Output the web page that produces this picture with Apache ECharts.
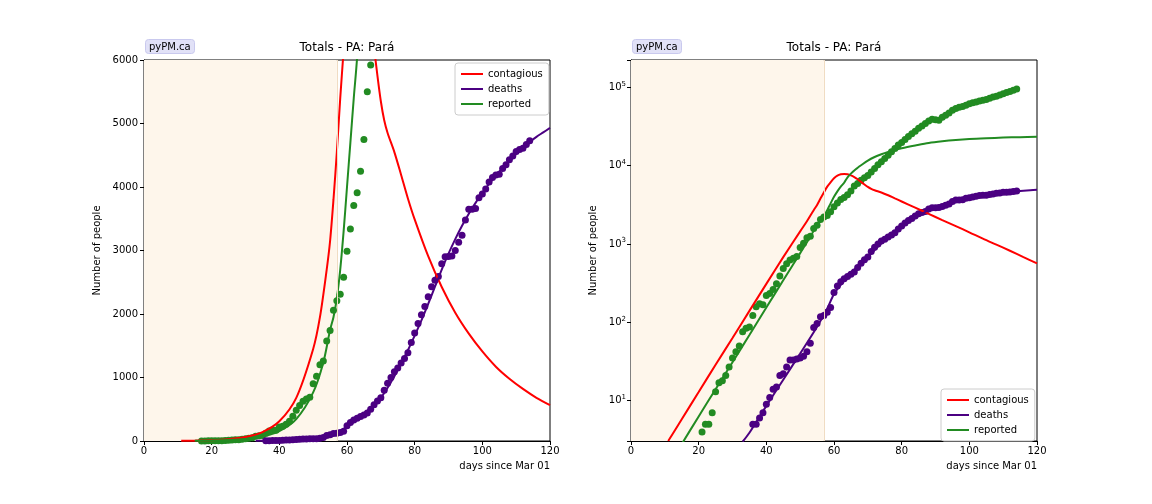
<!DOCTYPE html>
<html><head><meta charset="utf-8">
<script src="https://cdn.jsdelivr.net/npm/echarts@6/dist/echarts.min.js"></script>
<style>html,body{margin:0;padding:0;background:#fff}#c{width:1152px;height:504px}</style>
</head><body><div id="c"></div>
<script>
// ---- data ----
const titleText = 'Totals - PA: Pará';
const seriesNames = ['contagious', 'deaths', 'reported'];
const xTicks = [0, 20, 40, 60, 80, 100, 120];
const linearTicks = [0, 1000, 2000, 3000, 4000, 5000, 6000];
const shadeEndDay = 57;

// reported (points), day 17 .. 114
const reportedStartDay = 17;
const reportedValues = [
  1,1,2,2,4,5,5,7,13,17,
  18,21,27,35,42,50,76,84,87,122,
  158,173,168,220,234,262,310,390,485,558,
  625,660,690,900,1020,1200,1260,1575,1740,2060,
  2210,2310,2580,2990,3340,3710,3910,4250,4750,5500,
  5920,6500,7000,7500,8300,9200,10300,11200,12300,13600,
  15000,16500,18300,19800,21500,23500,25500,27500,30000,32000,
  34500,37000,39000,38500,38000,41500,44000,47000,51000,53500,
  55500,57000,59000,61500,63500,65000,67000,68500,70000,72500,
  75000,77000,80000,83000,85500,88500,91500,95000
];
// deaths (points), day 36 .. 114
const deathsStartDay = 36;
const deathsValues = [
  5,5,6,7,9,11,14,15,21,22,
  27,33,33,34,35,37,42,54,86,97,
  118,122,135,155,240,290,330,360,385,410,
  440,500,570,630,680,800,910,1000,1090,1150,
  1230,1300,1390,1550,1700,1850,1990,2120,2270,2430,
  2530,2590,2790,2900,2905,2915,3000,3130,3240,3480,
  3650,3650,3660,3830,3890,3970,4080,4150,4190,4200,
  4290,4350,4430,4490,4560,4590,4610,4670,4730
];
// model curves
const contagiousDays = [11,15,20,25,30,35,40,45,50,52,54,55,56,57,58,59,60,61,62,63,64,65,66,67,68,69,70,71,72,74,76,78,80,84,88,92,96,100,104,108,112,116,120];
const contagiousVals = [3.06,5.8,12.9,28.8,63,140,310,680,1450,1950,2700,3150,3800,4550,5400,6150,6900,7450,7750,7850,7750,7500,7150,6700,6200,5750,5350,5050,4850,4550,4190,3820,3490,2910,2425,2020,1690,1410,1170,980,820,680,565];
const reportedModelDays = [15,20,25,30,35,40,45,50,53,55,56,57,58,59,60,61,62,63,64,65,66,67,68,70,72,74,76,78,80,84,88,92,96,100,105,110,115,120];
const reportedModelVals = [2.8,6.3,14,31,69,155,344,765,1237,1750,1950,2250,2700,3300,4000,4700,5400,6050,7100,7900,8700,9400,10100,11600,12900,14000,15000,15900,16700,18100,19500,20500,21300,21900,22400,22800,23100,23300];
const deathsModelDays = [33,35,40,45,50,55,58,60,62,64,66,68,70,72,74,76,78,80,82,84,86,88,90,92,94,96,98,100,102,104,106,108,110,112,114,116,118,120];
const deathsModelVals = [3,3.9,8.6,18.5,40,88,150,230,300,380,470,560,680,840,1020,1220,1430,1660,1900,2160,2430,2700,2950,3180,3390,3580,3750,3910,4050,4180,4300,4410,4520,4620,4710,4790,4860,4930];

const colors = { contagious: '#ff0000', deaths: '#4b0082', reported: '#228b22' };

// ---- build ----
const pairs = (xs, ys) => xs.map((x, i) => [x, ys[i]]);
const fromStart = (start, ys) => ys.map((y, i) => [start + i, y]);

const FONT = 'DejaVu Sans';
const txt = { color: '#000', fontFamily: FONT };

function xAxisFor(gi) {
  return {
    type: 'value', gridIndex: gi, min: xTicks[0], max: xTicks[xTicks.length - 1], interval: 20,
    name: 'days since Mar 01', nameLocation: 'end', nameGap: 0,
    nameTextStyle: { ...txt, fontSize: 10, align: 'right', verticalAlign: 'top', padding: [20, 0, 0, 0] },
    axisLine: { lineStyle: { color: '#000', width: 1 } },
    axisTick: { length: 4, lineStyle: { color: '#000' } },
    axisLabel: { ...txt, fontSize: 10, margin: 5 },
    splitLine: { show: false }
  };
}

function modelLine(ax, name, data) {
  return { type: 'line', ...ax, name: name, data: data,
    smooth: 0.3, showSymbol: false, clip: true, z: 4,
    lineStyle: { color: colors[name], width: 2 }, itemStyle: { color: colors[name] } };
}

function makeSeries(gi) {
  const ax = { xAxisIndex: gi, yAxisIndex: gi };
  return [
    { type: 'line', ...ax, name: '_shade', data: [], silent: true, z: 1,
      markArea: { silent: true, itemStyle: { color: '#fef6eb' }, data: [[{ xAxis: 0 }, { xAxis: shadeEndDay }]] },
      markLine: { silent: true, symbol: 'none', label: { show: false },
        lineStyle: { color: '#f0dcc2', width: 1, type: 'solid' }, data: [{ xAxis: shadeEndDay }] } },
    { type: 'scatter', ...ax, name: 'reported', data: fromStart(reportedStartDay, reportedValues),
      symbolSize: 7, itemStyle: { color: colors.reported, opacity: 1 }, clip: true, z: 3 },
    { type: 'scatter', ...ax, name: 'deaths', data: fromStart(deathsStartDay, deathsValues),
      symbolSize: 7, itemStyle: { color: colors.deaths, opacity: 1 }, clip: true, z: 3 },
    modelLine(ax, 'contagious', pairs(contagiousDays, contagiousVals)),
    modelLine(ax, 'deaths', pairs(deathsModelDays, deathsModelVals)),
    modelLine(ax, 'reported', pairs(reportedModelDays, reportedModelVals))
  ];
}

function legendAt(pos) {
  return {
    ...pos, orient: 'vertical', data: seriesNames,
    icon: 'rect', itemWidth: 22, itemHeight: 2, itemGap: 5,
    padding: [6, 6, 6, 6], borderColor: '#cccccc', borderWidth: 1, borderRadius: 3,
    backgroundColor: 'rgba(255,255,255,0.85)',
    textStyle: { ...txt, fontSize: 10 }, selectedMode: false
  };
}

function titlesAt(left, center) {
  return [
    { text: 'pyPM.ca', left: left, top: 39, padding: [3, 4, 2, 4],
      backgroundColor: '#e1e1f7', borderColor: '#c9c9ee', borderWidth: 1, borderRadius: 3,
      textStyle: { ...txt, fontSize: 10, fontWeight: 'normal' } },
    { text: titleText, left: center, top: 42, textAlign: 'center', padding: 0,
      textStyle: { ...txt, fontSize: 12, fontWeight: 'normal' } }
  ];
}

const option = {
  animation: false,
  backgroundColor: '#fff',
  title: [...titlesAt(145, 347), ...titlesAt(632, 834)],
  legend: [legendAt({ left: 455, top: 63 }), legendAt({ left: 941, top: 389 })],
  grid: [
    { left: 144, top: 60, width: 406, height: 381, show: true, borderColor: '#000', borderWidth: 1, backgroundColor: 'transparent' },
    { left: 631, top: 60, width: 406, height: 381, show: true, borderColor: '#000', borderWidth: 1, backgroundColor: 'transparent' }
  ],
  xAxis: [xAxisFor(0), xAxisFor(1)],
  yAxis: [
    { type: 'value', gridIndex: 0, min: linearTicks[0], max: linearTicks[linearTicks.length - 1], interval: 1000,
      name: 'Number of people', nameLocation: 'middle', nameGap: 42,
      nameTextStyle: { ...txt, fontSize: 10 },
      axisLine: { show: true, lineStyle: { color: '#000' } },
      axisTick: { show: true, length: 4, lineStyle: { color: '#000' } },
      axisLabel: { ...txt, fontSize: 10, margin: 6, formatter: v => String(v) }, splitLine: { show: false } },
    { type: 'log', gridIndex: 1, logBase: 10, min: 3.06, max: 223000,
      name: 'Number of people', nameLocation: 'middle', nameGap: 33,
      nameTextStyle: { ...txt, fontSize: 10 },
      axisLine: { show: true, lineStyle: { color: '#000' } },
      axisTick: { show: true, length: 4, lineStyle: { color: '#000' } },
      axisLabel: { ...txt, fontSize: 10, margin: 5,
        formatter: function (v) {
          const e = Math.round(Math.log10(v));
          if (Math.abs(Math.log10(v) - e) > 1e-6) return '';
          return '{b|10}{s|' + e + '}';
        },
        rich: { b: { ...txt, fontSize: 10 }, s: { ...txt, fontSize: 7, padding: [0, 0, 7, 0] } } },
      splitLine: { show: false } }
  ],
  series: [...makeSeries(0), ...makeSeries(1)]
};

const chart = echarts.init(document.getElementById('c'), null, { renderer: 'canvas' });
chart.setOption(option);
</script>
</body></html>
